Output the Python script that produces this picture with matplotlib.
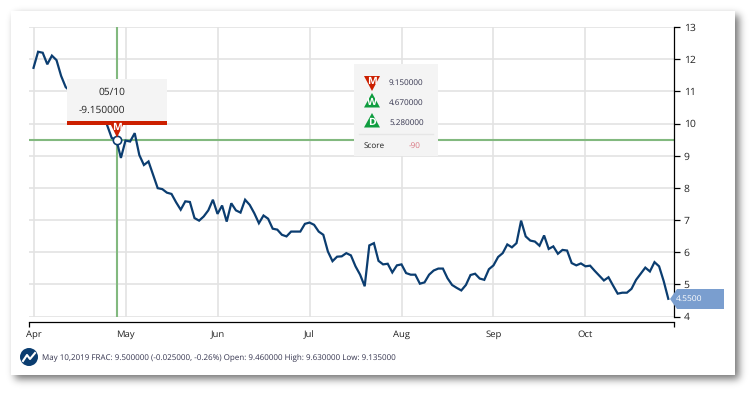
import math

import matplotlib
matplotlib.use("Agg")
import matplotlib.pyplot as plt
import numpy as np
from matplotlib.patches import Circle, Polygon, Rectangle

plt.rcParams['font.family'] = ['Open Sans', 'DejaVu Sans']
plt.rcParams['text.hinting'] = 'none'

# index = trading day, the points hidden under the tooltip are estimates
prices = [11.73, 12.23, 12.20, 11.84, 12.11, 11.97, 11.48, 11.13, 11.00, 10.90,
          10.80, 10.85, 10.70, 10.60, 10.50, 10.30, 9.95, 9.55, 9.50, 8.93,
          9.47, 9.44, 9.70, 9.02, 8.71, 8.82, 8.40, 7.99, 7.96, 7.85,
          7.81, 7.55, 7.32, 7.58, 7.56, 7.06, 6.98, 7.11, 7.30, 7.63,
          7.19, 7.45, 6.95, 7.52, 7.30, 7.23, 7.63, 7.47, 7.21, 6.90,
          7.14, 7.04, 6.73, 6.70, 6.54, 6.49, 6.64, 6.64, 6.64, 6.88,
          6.92, 6.85, 6.64, 6.54, 6.02, 5.72, 5.86, 5.87, 5.97, 5.90,
          5.56, 5.30, 4.94, 6.21, 6.28, 5.73, 5.62, 5.64, 5.37, 5.59,
          5.62, 5.35, 5.30, 5.30, 5.02, 5.06, 5.30, 5.43, 5.49, 5.49,
          5.19, 4.98, 4.89, 4.81, 4.98, 5.29, 5.33, 5.18, 5.14, 5.47,
          5.59, 5.85, 5.97, 6.24, 6.15, 6.28, 6.98, 6.49, 6.36, 6.33,
          6.20, 6.52, 6.10, 6.18, 5.95, 6.07, 6.05, 5.66, 5.59, 5.65,
          5.56, 5.58, 5.42, 5.27, 5.12, 5.22, 4.96, 4.71, 4.74, 4.74,
          4.86, 5.14, 5.33, 5.52, 5.40, 5.69, 5.56, 5.10, 4.55]
month_labels = ['Apr', 'May', 'Jun', 'Jul', 'Aug', 'Sep', 'Oct']
month_pos = [0, 20, 40, 60, 80, 100, 120]
y_ticks = [4, 5, 6, 7, 8, 9, 10, 11, 12, 13]
cross_idx = 18.15
cross_val = 9.5

W, H = 754, 394
LINE = '#0b3d70'
GRID = '#e3e3e3'
GREEN = '#82b97f'
PANEL = '#f4f4f4'
TEXT = '#33334d'

fig = plt.figure(figsize=(W / 100, H / 100), dpi=100, facecolor='white')


def box_blur(coords, lo, hi, sigma):
    # blurred edge profile of a box between lo and hi
    erf = np.vectorize(math.erf)
    s = sigma * math.sqrt(2)
    return 0.5 * (erf((coords - lo) / s) - erf((coords - hi) / s))


# card with its drop shadow
bg = fig.add_axes([0, 0, 1, 1], zorder=0)
px = np.arange(W) + 0.5
py = np.arange(H) + 0.5
shade = np.outer(box_blur(py, 15, 379, 4), box_blur(px, 15, 739, 4))
bg.imshow(1 - 0.55 * shade, cmap='gray', vmin=0, vmax=1, extent=(0, W, H, 0), aspect='auto')
bg.add_patch(Rectangle((11, 11), 724, 364, fc='white', ec='none'))
bg.set_xlim(0, W)
bg.set_ylim(H, 0)
bg.axis('off')

# main chart
ax = fig.add_axes([29 / W, 1 - 316.5 / H, 645 / W, 289.5 / H], zorder=1)
ax.patch.set_alpha(0)
x = np.arange(len(prices))
ax.plot(x, prices, color=LINE, lw=1.6, solid_joinstyle='miter', zorder=4)
ax.set_xlim(-0.98, 139.24)
ax.set_ylim(4, 13)
ax.set_xticks(month_pos)
ax.set_xticklabels(month_labels)
ax.set_xticks([-0.98, 139.24], minor=True)
ax.tick_params(axis='x', which='major', length=0, pad=5.5, labelsize=6.8, labelcolor='#222222')
ax.tick_params(axis='x', which='minor', length=3.6, width=0.9, color='black')
ax.yaxis.tick_right()
ax.set_yticks(y_ticks)
ax.tick_params(axis='y', length=4, width=0.9, color='black', labelsize=7.5, pad=3, labelcolor='#222222')
ax.grid(True, color=GRID, lw=1.2, zorder=1)
ax.set_axisbelow(True)
for side in ['top', 'left']:
    ax.spines[side].set_visible(False)
ax.spines['right'].set_linewidth(0.9)
ax.spines['bottom'].set_linewidth(0.9)
ax.spines['bottom'].set_position(('outward', 4.2))
ax.axvline(cross_idx, color=GREEN, lw=1.5, zorder=2)
ax.axhline(cross_val, color=GREEN, lw=1.5, zorder=2)
ax.plot([cross_idx], [cross_val], 'o', ms=6, mfc='white', mec=LINE, mew=1.2, zorder=5)

# overlay in pixel coordinates: tooltip, score panel, price flag, status line
ov = fig.add_axes([0, 0, 1, 1], zorder=2)
ov.set_xlim(0, W)
ov.set_ylim(H, 0)
ov.axis('off')


def signal_icon(xc, top, bottom, letter, color, size=7.5):
    # M points down, W and D point up
    if letter == 'M':
        pts = [(xc - 8, top), (xc + 8, top), (xc, bottom)]
    else:
        pts = [(xc, top), (xc - 8, bottom), (xc + 8, bottom)]
    ov.add_patch(Polygon(pts, fc=color, ec='none'))
    ym = top + (bottom - top) * (0.36 if letter == 'M' else 0.66)
    ov.text(xc, ym, letter, color='white', fontsize=size, fontweight='bold', ha='center', va='center')


RED = '#cc1f00'
DGREEN = '#0f9d3f'
signal_icon(117, 121, 137.5, 'M', RED)
ov.add_patch(Rectangle((67, 79), 100, 46, fc=PANEL, ec='none'))
ov.add_patch(Rectangle((67, 121), 100, 4, fc=RED, ec='none'))
ov.text(112, 92, '05/10', fontsize=7.3, color='#222222', ha='center', va='center')
ov.text(102, 110, '-9.150000', fontsize=7.3, color='#222222', ha='center', va='center')

ov.add_patch(Rectangle((354, 64), 84, 92, fc=PANEL, ec='none'))
signal_icon(372, 76, 91, 'M', RED)
signal_icon(372, 93, 107.5, 'W', DGREEN)
signal_icon(372, 113, 127.5, 'D', DGREEN)
for ty, s in zip([83, 103, 123], ['9.150000', '4.670000', '5.280000']):
    ov.text(389, ty, s, fontsize=5.9, color=TEXT, ha='left', va='center')
ov.plot([359, 433], [134, 134], color='#e6e6e6', lw=1.0)
ov.text(364, 146, 'Score', fontsize=5.9, color='#222222', ha='left', va='center')
ov.text(415, 146, '-90', fontsize=5.9, color='#d9737f', ha='center', va='center')

ov.add_patch(Polygon([(670, 299), (677, 289), (724, 289), (724, 309), (677, 309)], fc='#7a9ecf', ec='none'))
ov.text(676, 299, '4.5500', fontsize=6.1, color='white', ha='left', va='center')

ov.add_patch(Circle((29, 357), 9, fc=LINE, ec='none'))
ov.plot([23, 27, 30, 35], [361, 355, 359, 353], color='white', lw=1.5)
ov.text(42, 358, 'May 10,2019 FRAC: 9.500000 (-0.025000, -0.26%) Open: 9.460000 High: 9.630000 Low: 9.135000',
        fontsize=5.8, color=TEXT, ha='left', va='center')

fig.savefig('out.png', dpi=100)
